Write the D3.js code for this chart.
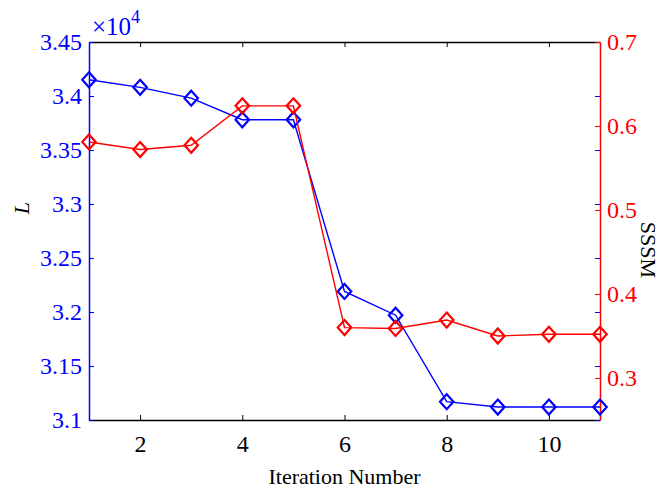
<!DOCTYPE html>
<html><head><meta charset="utf-8">
<script src="https://cdn.jsdelivr.net/npm/d3@7"></script>
<style>body{margin:0;background:#fff}svg{display:block}svg text{font-family:"Liberation Serif","Times New Roman",serif !important}</style>
</head><body><svg id="c" width="662" height="490"></svg>
<script>
const iterations = [1,2,3,4,5,6,7,8,9,10,11];
const L = [34150,34080,33980,33780,33780,32190,31970,31170,31120,31120,31120];
const SSSM = [0.581,0.572,0.577,0.624,0.624,0.360,0.359,0.369,0.350,0.352,0.352];
const xTicks = [2,4,6,8,10];
const leftTicks = [3.1,3.15,3.2,3.25,3.3,3.35,3.4,3.45];
const rightTicks = [0.3,0.4,0.5,0.6,0.7];

const FF = "Liberation Serif";
const svg = d3.select("#c").attr("font-family",FF);
const m = {l:89, r:600, t:42, b:420};
const blue = "#0000ff", red = "#ff0000";
const x = d3.scaleLinear().domain([1,11]).range([m.l,m.r]);
const yL = d3.scaleLinear().domain([3.1,3.45]).range([m.b,m.t]);
const yR = d3.scaleLinear().domain([0.25,0.7]).range([m.b,m.t]);
const tl = 5;

function styleText(g, col){
  g.attr("font-family",FF);
  g.selectAll("text").attr("font-family",FF).style("font-family",FF).attr("font-size",24).attr("fill",col);
}

const gb = svg.append("g").attr("transform",`translate(0,${m.b})`)
  .call(d3.axisBottom(x).tickValues(xTicks).tickSizeInner(-tl).tickSizeOuter(0).tickPadding(15).tickFormat(d3.format("d")));
gb.select(".domain").attr("stroke","#000").attr("stroke-width",1.3);
gb.selectAll(".tick line").attr("stroke","#000");
styleText(gb,"#000");
const gt = svg.append("g").attr("transform",`translate(0,${m.t})`)
  .call(d3.axisTop(x).tickValues(xTicks).tickSizeInner(-tl).tickSizeOuter(0).tickFormat(""));
gt.select(".domain").attr("stroke","#000").attr("stroke-width",1.3);
gt.selectAll(".tick line").attr("stroke","#000");

const gmr = svg.append("g").attr("transform",`translate(${m.r},0)`)
  .call(d3.axisRight(yL).tickValues(leftTicks).tickSizeInner(-tl).tickSizeOuter(0).tickFormat(""));
gmr.select(".domain").remove();
gmr.selectAll(".tick line").attr("stroke",blue);

const gl = svg.append("g").attr("transform",`translate(${m.l},0)`)
  .call(d3.axisLeft(yL).tickValues(leftTicks).tickSizeInner(-tl).tickSizeOuter(0).tickPadding(7).tickFormat(d=>String(+d.toFixed(2))));
gl.select(".domain").attr("stroke",blue).attr("stroke-width",1.5);
gl.selectAll(".tick line").attr("stroke",blue);
styleText(gl,blue);

const gr = svg.append("g").attr("transform",`translate(${m.r},0)`)
  .call(d3.axisRight(yR).tickValues(rightTicks).tickSizeInner(-tl).tickSizeOuter(0).tickPadding(7).tickFormat(d=>String(+d.toFixed(1))));
gr.select(".domain").attr("stroke",red).attr("stroke-width",1.5);
gr.selectAll(".tick line").attr("stroke",red);
styleText(gr,red);

const ex = svg.append("text").attr("x",92).attr("y",35).attr("fill",blue).attr("font-size",25);
ex.append("tspan").text("×10");
ex.append("tspan").attr("font-size",18).attr("dy",-12).text("4");

svg.append("text").attr("x",(m.l+m.r)/2).attr("y",484).attr("text-anchor","middle").attr("font-size",22).text("Iteration Number");
svg.append("text").attr("transform","translate(29,208) rotate(-90)").attr("text-anchor","middle").attr("font-size",22).attr("font-style","italic").text("L");
svg.append("text").attr("transform","translate(641,250) rotate(90)").attr("text-anchor","middle").attr("font-size",22).text("SSSM");

const diamond = (cx,cy,r)=>`M${cx},${cy-r}L${cx+r*0.9},${cy}L${cx},${cy+r}L${cx-r*0.9},${cy}Z`;
function series(vals, ys, col){
  const g = svg.append("g");
  g.append("path").datum(vals).attr("fill","none").attr("stroke",col).attr("stroke-width",1.4)
    .attr("d",d3.line().x((d,i)=>x(iterations[i])).y(d=>ys(d)));
  g.selectAll("path.m").data(vals).join("path").attr("class","m")
    .attr("d",(d,i)=>diamond(x(iterations[i]),ys(d),7.5)).attr("fill","none").attr("stroke",col).attr("stroke-width",2.2);
}
series(L.map(v=>v/1e4), yL, blue);
series(SSSM, yR, red);
</script></body></html>
